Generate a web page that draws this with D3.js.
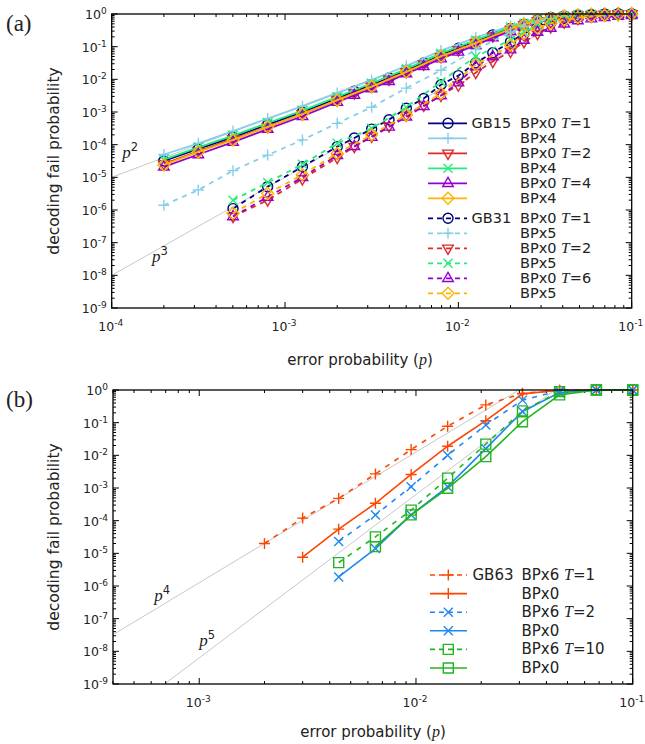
<!DOCTYPE html>
<html>
<head>
<meta charset="utf-8">
<script src="https://cdn.jsdelivr.net/npm/d3@7"></script>
<style>
    body { margin: 0; background: #fff; }
    svg { display: block; font-family: "DejaVu Sans", sans-serif; }
</style>
</head>
<body>
<svg id="chart" width="645" height="744"></svg>
<script>

// ---------- panel (a) : GB15 / GB31 ----------
var pA = [2e-4, 3.16e-4, 5.01e-4, 7.94e-4, 1.26e-3, 2e-3, 3.16e-3, 5.01e-3, 7.94e-3, 1.26e-2, 2e-2,
          2.39e-2, 2.86e-2, 3.41e-2, 4.08e-2, 4.89e-2, 5.85e-2, 6.98e-2, 8.36e-2, 0.1];
var pAfine = [2e-4, 3.16e-4, 5.01e-4, 7.94e-4, 1.26e-3, 2e-3, 2.51e-3, 3.16e-3, 3.98e-3, 5.01e-3,
          6.31e-3, 7.94e-3, 1e-2, 1.26e-2, 1.58e-2, 2e-2,
          2.39e-2, 2.86e-2, 3.41e-2, 4.08e-2, 4.89e-2, 5.85e-2, 6.98e-2, 8.36e-2, 0.1];

var gb15Bp0T1 = [3.2e-5, 7.4e-5, 1.7e-4, 4.1e-4, 1.0e-3, 2.6e-3, 4.3e-3, 6.8e-3, 1.1e-2, 1.9e-2, 3.2e-2, 5.5e-2,
                 8.9e-2, 0.14, 0.23, 0.36, 0.49, 0.65, 0.78, 0.87, 0.93, 0.97, 0.99, 1, 1];
var gb15Bp4T1 = [5.0e-5, 1.1e-4, 2.6e-4, 6.3e-4, 1.5e-3, 3.8e-3, 9.5e-3, 2.6e-2, 7.6e-2, 0.19, 0.44,
                 0.56, 0.71, 0.83, 0.91, 0.95, 0.98, 1, 1, 1];
var gb15Bp0T2 = [2.6e-5, 6.3e-5, 1.5e-4, 3.5e-4, 8.7e-4, 2.3e-3, 3.8e-3, 6.0e-3, 1.0e-2, 1.7e-2, 2.9e-2, 4.9e-2,
                 7.9e-2, 0.13, 0.21, 0.33, 0.46, 0.6, 0.74, 0.85, 0.92, 0.95, 0.98, 1, 1];
var gb15Bp4T2 = [3.5e-5, 8.3e-5, 1.9e-4, 4.6e-4, 1.1e-3, 2.9e-3, 7.6e-3, 2.1e-2, 6.2e-2, 0.16, 0.4,
                 0.52, 0.68, 0.79, 0.89, 0.95, 0.98, 1, 1, 1];
var gb15Bp0T4 = [2.1e-5, 5.0e-5, 1.2e-4, 3.0e-4, 7.4e-4, 2.0e-3, 3.3e-3, 5.2e-3, 8.7e-3, 1.5e-2, 2.5e-2, 4.3e-2,
                 6.9e-2, 0.11, 0.19, 0.29, 0.4, 0.54, 0.68, 0.79, 0.89, 0.94, 0.98, 1, 1];
var gb15Bp4T4 = [2.4e-5, 6.0e-5, 1.4e-4, 3.5e-4, 8.7e-4, 2.3e-3, 6.0e-3, 1.7e-2, 5.1e-2, 0.13, 0.35,
                 0.48, 0.63, 0.76, 0.87, 0.93, 0.98, 1, 1, 1];

var gb31Bp0T1 = [1.1e-6, 5.2e-6, 2.1e-5, 8.7e-5, 1.6e-4, 3.0e-4, 5.8e-4, 1.3e-3, 2.6e-3, 6.8e-3, 1.3e-2, 3.2e-2,
                 6.5e-2, 0.14, 0.25, 0.4, 0.56, 0.74, 0.87, 0.93, 0.98, 1, 1];
var gb31Bp5T1 = [1.4e-6, 4.1e-6, 1.6e-5, 4.8e-5, 1.4e-4, 4.5e-4, 1.4e-3, 5.4e-3, 1.9e-2, 8.1e-2, 0.28,
                 0.42, 0.58, 0.72, 0.85, 0.92, 0.97, 0.99, 1, 1];
var gb31Bp0T2 = [6.3e-7, 2.0e-6, 8.9e-6, 4.0e-5, 8.7e-5, 1.8e-4, 3.7e-4, 7.9e-4, 1.6e-3, 3.2e-3, 6.6e-3, 1.6e-2,
                 3.5e-2, 7.1e-2, 0.14, 0.25, 0.4, 0.56, 0.72, 0.85, 0.93, 0.98, 1];
var gb31Bp5T2 = [2.0e-6, 6.9e-6, 2.5e-5, 1.1e-4, 3.2e-4, 1.4e-3, 8.5e-3, 5.0e-2, 0.16,
                 0.28, 0.44, 0.6, 0.76, 0.87, 0.93, 0.98, 1, 1];
var gb31Bp0T6 = [6.3e-7, 2.5e-6, 1.0e-5, 4.7e-5, 8.9e-5, 1.7e-4, 3.5e-4, 7.1e-4, 1.5e-3, 3.2e-3, 7.9e-3, 2.5e-2,
                 5.0e-2, 8.1e-2, 0.16, 0.28, 0.37, 0.5, 0.63, 0.72, 0.79, 0.87, 0.91];
var gb31Bp5T6 = [7.9e-7, 3.2e-6, 1.2e-5, 5.4e-5, 2.0e-4, 8.1e-4, 3.7e-3, 2.8e-2, 0.11,
                 0.25, 0.38, 0.52, 0.66, 0.78, 0.85, 0.91, 0.95, 0.98];

// ---------- panel (b) : GB63 ----------
var pB = [0.002, 0.003, 0.0044, 0.0065, 0.0095, 0.014, 0.021, 0.031, 0.046, 0.068, 0.1];

var gb63Bp6T1 = [2.0e-5, 1.2e-4, 4.8e-4, 2.7e-3, 1.5e-2, 7.8e-2, 0.35, 0.79, 0.98, 1, 1];
var gb63Bp0T1 = [7.6e-6, 5.5e-5, 3.4e-4, 2.6e-3, 1.9e-2, 0.115, 0.76, 0.98, 1, 1];
var gb63Bp6T2 = [2.3e-5, 1.5e-4, 1.1e-3, 1.0e-2, 8.5e-2, 0.49, 0.95, 1, 1];
var gb63Bp0T2 = [1.9e-6, 1.4e-5, 1.5e-4, 1.1e-3, 1.6e-2, 0.22, 0.83, 1, 1];
var gb63Bp6T10 = [5.2e-6, 3.2e-5, 2.1e-4, 2.0e-3, 2.2e-2, 0.23, 0.89, 1, 1];
var gb63Bp0T10 = [1.6e-5, 1.5e-4, 9.8e-4, 9.1e-3, 0.107, 0.71, 1, 1];

// power-law guides  c * p^k
var guidesA = [{ k: 2, c: 1e3, lx: 1.15e-4, ly: 3.8e-5 }, { k: 3, c: 1e4, lx: 1.71e-4, ly: 2.6e-8 }];
var guidesB = [{ k: 4, c: 1.26e6, lx: 6.2e-4, ly: 3.5e-7 }, { k: 5, c: 6.3e6, lx: 1.0e-3, ly: 1.46e-8 }];

var yDecades = [0, -1, -2, -3, -4, -5, -6, -7, -8, -9];


var seriesA = [
    { code: "GB15", dec: "BPx0", T: "1", color: "#00007f", mark: "circle", dash: false, p: pAfine, v: gb15Bp0T1 },
    { code: "",     dec: "BPx4", T: null, color: "#87ceeb", mark: "plus",   dash: false, p: pA, v: gb15Bp4T1 },
    { code: "",     dec: "BPx0", T: "2", color: "#dd2a2a", mark: "tdown",  dash: false, p: pAfine, v: gb15Bp0T2 },
    { code: "",     dec: "BPx4", T: null, color: "#22ee77", mark: "cross",  dash: false, p: pA, v: gb15Bp4T2 },
    { code: "",     dec: "BPx0", T: "4", color: "#9400d3", mark: "tup",    dash: false, p: pAfine, v: gb15Bp0T4 },
    { code: "",     dec: "BPx4", T: null, color: "#ffb400", mark: "diamond", dash: false, p: pA, v: gb15Bp4T4 },
    { code: "GB31", dec: "BPx0", T: "1", color: "#00007f", mark: "circle", dash: true, p: pAfine.slice(2), v: gb31Bp0T1 },
    { code: "",     dec: "BPx5", T: null, color: "#87ceeb", mark: "plus",   dash: true, p: pA, v: gb31Bp5T1 },
    { code: "",     dec: "BPx0", T: "2", color: "#dd2a2a", mark: "tdown",  dash: true, p: pAfine.slice(2), v: gb31Bp0T2 },
    { code: "",     dec: "BPx5", T: null, color: "#22ee77", mark: "cross",  dash: true, p: pA.slice(2), v: gb31Bp5T2 },
    { code: "",     dec: "BPx0", T: "6", color: "#9400d3", mark: "tup",    dash: true, p: pAfine.slice(2), v: gb31Bp0T6 },
    { code: "",     dec: "BPx5", T: null, color: "#ffb400", mark: "diamond", dash: true, p: pA.slice(2), v: gb31Bp5T6 }
];

var seriesB = [
    { code: "GB63", dec: "BPx6", T: "1",  color: "#ff4500", mark: "plus",   dash: true,  p: pB, v: gb63Bp6T1 },
    { code: "",     dec: "BPx0", T: null, color: "#ff4500", mark: "plus",   dash: false, p: pB.slice(1), v: gb63Bp0T1 },
    { code: "",     dec: "BPx6", T: "2",  color: "#1e88f0", mark: "cross",  dash: true,  p: pB.slice(2), v: gb63Bp6T2 },
    { code: "",     dec: "BPx0", T: null, color: "#1e88f0", mark: "cross",  dash: false, p: pB.slice(2), v: gb63Bp0T2 },
    { code: "",     dec: "BPx6", T: "10", color: "#22b422", mark: "square", dash: true,  p: pB.slice(2), v: gb63Bp6T10 },
    { code: "",     dec: "BPx0", T: null, color: "#22b422", mark: "square", dash: false, p: pB.slice(3), v: gb63Bp0T10 }
];


function translate(x, y) {
    return "translate(" + x + "," + y + ")";
}

function markPath(type) {
    switch (type) {
        case "circle":  return "M5,0A5,5 0 1,1 -5,0A5,5 0 1,1 5,0Z";
        case "plus":    return "M-5.5,0H5.5M0,-5.5V5.5";
        case "cross":   return "M-4.5,-4.5L4.5,4.5M-4.5,4.5L4.5,-4.5";
        case "tup":     return "M0,-6L5.3,3.2L-5.3,3.2Z";
        case "tdown":   return "M0,6L5.3,-3.2L-5.3,-3.2Z";
        case "diamond": return "M0,-6L6,0L0,6L-6,0Z";
        case "square":  return "M-5,-5H5V5H-5Z";
    }
}

function powText(sel, base, exp, expSize, rise) {
    sel.append("tspan").text(base);
    sel.append("tspan")
        .attr("dy", -rise)
        .style("font-size", expSize + "px")
        .text(exp);
}


function drawPanel(svg, cfg) {
    var x = d3.scaleLog().domain(cfg.xDomain).range([cfg.left, cfg.right]);
    var y = d3.scaleLog().domain([1e-9, 1]).range([cfg.bottom, cfg.top]);
    var g = svg.append("g").attr("class", "panel-" + cfg.id);

    var clipId = "clip-" + cfg.id;
    svg.append("clipPath").attr("id", clipId)
      .append("rect")
        .attr("x", cfg.left).attr("y", cfg.top)
        .attr("width", cfg.right - cfg.left)
        .attr("height", cfg.bottom - cfg.top);

    // reference power laws
    g.append("g").attr("clip-path", "url(#" + clipId + ")")
        .selectAll("line")
        .data(cfg.guides)
      .enter().append("line")
        .attr("x1", x(cfg.xDomain[0]))
        .attr("y1", d => y(d.c * Math.pow(cfg.xDomain[0], d.k)))
        .attr("x2", d => x(Math.pow(1 / d.c, 1 / d.k)))
        .attr("y2", y(1))
        .style("stroke", "#c8c8c8")
        .style("stroke-width", 1);

    var gl = g.selectAll(".guide-label")
        .data(cfg.guides)
      .enter().append("text")
        .attr("class", "guide-label")
        .attr("x", d => x(d.lx))
        .attr("y", d => y(d.ly))
        .style("fill", "#222");
    gl.append("tspan")
        .style("font-family", "'Liberation Serif', serif")
        .style("font-style", "italic")
        .style("font-size", "17px")
        .text("p");
    gl.append("tspan")
        .attr("dy", -7)
        .style("font-size", "11.5px")
        .text(d => d.k);

    // ticks, all four sides, pointing in
    var isMajor = v => Math.abs(Math.log10(v) - Math.round(Math.log10(v))) < 1e-6;
    var ticks = g.append("g").style("stroke", "#000").style("stroke-width", 1);
    var xt = x.ticks();
    var yt = y.ticks();
    ticks.selectAll(".xb").data(xt).enter().append("line")
        .attr("x1", d => x(d)).attr("x2", d => x(d))
        .attr("y1", cfg.bottom).attr("y2", d => cfg.bottom - (isMajor(d) ? 6 : 3));
    ticks.selectAll(".xt").data(xt).enter().append("line")
        .attr("x1", d => x(d)).attr("x2", d => x(d))
        .attr("y1", cfg.top).attr("y2", d => cfg.top + (isMajor(d) ? 6 : 3));
    ticks.selectAll(".yl").data(yt).enter().append("line")
        .attr("y1", d => y(d)).attr("y2", d => y(d))
        .attr("x1", cfg.left).attr("x2", d => cfg.left + (isMajor(d) ? 6 : 3));
    ticks.selectAll(".yr").data(yt).enter().append("line")
        .attr("y1", d => y(d)).attr("y2", d => y(d))
        .attr("x1", cfg.right).attr("x2", d => cfg.right - (isMajor(d) ? 6 : 3));

    // tick labels
    g.selectAll(".ylab")
        .data(yDecades)
      .enter().append("text")
        .attr("class", "ylab")
        .attr("x", cfg.left - 5)
        .attr("y", d => y(Math.pow(10, d)) + 5)
        .style("text-anchor", "end")
        .style("font-size", "12.5px")
        .style("fill", "#222")
        .each(function(d) { powText(d3.select(this), "10", d === 0 ? "0" : "-" + (-d), 9, 5); });

    g.selectAll(".xlab")
        .data(xt.filter(isMajor))
      .enter().append("text")
        .attr("class", "xlab")
        .attr("x", d => x(d) - 1)
        .attr("y", cfg.bottom + 23)
        .style("text-anchor", "middle")
        .style("font-size", "12.5px")
        .style("fill", "#222")
        .each(function(d) { powText(d3.select(this), "10", "-" + (-Math.round(Math.log10(d))), 9, 5); });

    // axis titles
    var xl = g.append("text")
        .attr("x", cfg.xTitleX)
        .attr("y", cfg.bottom + cfg.xTitleDy)
        .style("text-anchor", "middle")
        .style("font-size", "15px")
        .style("fill", "#222");
    xl.append("tspan").text("error probability (");
    xl.append("tspan")
        .style("font-family", "'Liberation Serif', serif")
        .style("font-style", "italic")
        .style("font-size", "16px")
        .text("p");
    xl.append("tspan").text(")");

    g.append("text")
        .attr("transform", translate(59, (cfg.top + cfg.bottom) / 2) + " rotate(-90)")
        .style("text-anchor", "middle")
        .style("font-size", "15.5px")
        .style("fill", "#222")
        .text("decoding fail probability");

    g.append("text")
        .attr("x", 6)
        .attr("y", cfg.top + 17)
        .style("font-family", "'Liberation Serif', serif")
        .style("font-size", "23px")
        .style("fill", "#222")
        .text("(" + cfg.id + ")");

    // data series
    var line = d3.line()
        .x(d => x(d[0]))
        .y(d => y(d[1]));

    var s = g.selectAll(".series")
        .data(cfg.series)
      .enter().append("g")
        .attr("class", "series");

    s.append("path")
        .attr("d", d => line(d.p.map((p, i) => [p, d.v[i]])))
        .style("fill", "none")
        .style("stroke", d => d.color)
        .style("stroke-width", cfg.lineWidth)
        .attr("stroke-dasharray", d => d.dash ? cfg.dashes : null);

    s.each(function(d) {
        d3.select(this).selectAll(".mark")
            .data(d.p.map((p, i) => [p, d.v[i]]))
          .enter().append("path")
            .attr("class", "mark")
            .attr("transform", e => translate(x(e[0]), y(e[1])))
            .attr("d", markPath(d.mark))
            .style("fill", "none")
            .style("stroke", d.color)
            .style("stroke-width", 1.4);
    });

    // legend
    var key = g.selectAll(".key")
        .data(cfg.series)
      .enter().append("g")
        .attr("class", "key")
        .attr("transform", (d, i) => translate(0, cfg.legend.y0 + i * cfg.legend.step
            + (i >= cfg.legend.groupAt ? cfg.legend.gap : 0)));

    key.append("line")
        .attr("x1", cfg.legend.x0).attr("x2", cfg.legend.x1)
        .style("stroke", d => d.color)
        .style("stroke-width", cfg.lineWidth)
        .attr("stroke-dasharray", d => d.dash ? "5,4" : null);

    key.append("path")
        .attr("transform", translate(cfg.legend.xm, 0))
        .attr("d", d => markPath(d.mark))
        .style("fill", "none")
        .style("stroke", d => d.color)
        .style("stroke-width", 1.4);

    key.append("text")
        .attr("x", cfg.legend.tx0)
        .attr("y", 5)
        .style("font-size", cfg.legend.font + "px")
        .style("fill", "#222")
        .text(d => d.code);

    var kt = key.append("text")
        .attr("x", cfg.legend.tx1)
        .attr("y", 5)
        .style("font-size", cfg.legend.font + "px")
        .style("fill", "#222");
    kt.append("tspan").text(d => d.dec + (d.T ? " " : ""));
    kt.filter(d => d.T).append("tspan")
        .style("font-family", "'Liberation Serif', serif")
        .style("font-style", "italic")
        .style("font-size", (cfg.legend.font + 1) + "px")
        .text("T");
    kt.filter(d => d.T).append("tspan").text(d => "=" + d.T);

    // frame
    g.append("rect")
        .attr("x", cfg.left).attr("y", cfg.top)
        .attr("width", cfg.right - cfg.left)
        .attr("height", cfg.bottom - cfg.top)
        .style("fill", "none")
        .style("stroke", "#000")
        .style("stroke-width", 1.3);
}


var svg = d3.select("#chart");

drawPanel(svg, {
    id: "a",
    xDomain: [1e-4, 0.1],
    left: 111.7, right: 631.7, top: 14, bottom: 308,
    xTitleX: 360, xTitleDy: 57,
    guides: guidesA,
    series: seriesA,
    lineWidth: 1.8,
    dashes: "5,5",
    legend: { x0: 428, x1: 467, xm: 448, tx0: 471.5, tx1: 520, y0: 123.3, step: 15, groupAt: 6, gap: 5, font: 14.5 }
});

drawPanel(svg, {
    id: "b",
    xDomain: [4e-4, 0.1],
    left: 113, right: 632.7, top: 390, bottom: 684,
    xTitleX: 373, xTitleDy: 53,
    guides: guidesB,
    series: seriesB,
    lineWidth: 1.6,
    dashes: "5,6",
    legend: { x0: 430, x1: 467, xm: 448.3, tx0: 472.5, tx1: 521.5, y0: 575, step: 18.6, groupAt: 99, gap: 0, font: 15 }
});

</script>
</body>
</html>
